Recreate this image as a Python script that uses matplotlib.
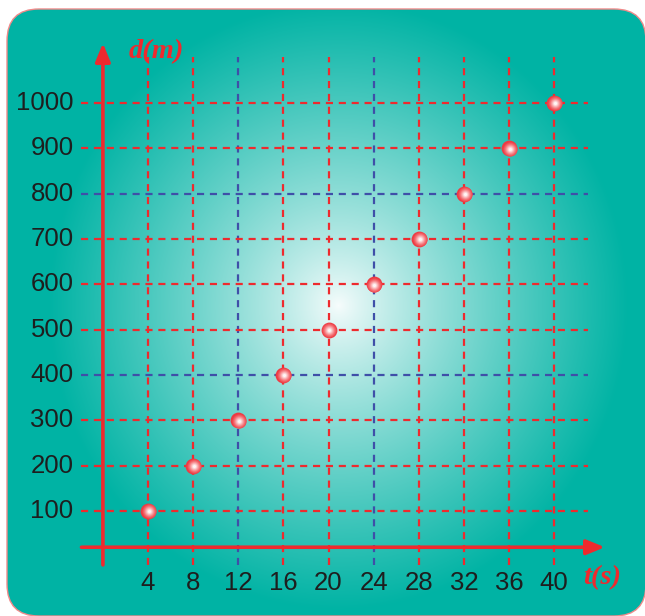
import numpy as np
import matplotlib
matplotlib.use("Agg")
import matplotlib.pyplot as plt
from matplotlib.patches import FancyBboxPatch
from matplotlib.colors import to_rgb
from matplotlib.transforms import offset_copy

# Distance travelled over time
times = [4, 8, 12, 16, 20, 24, 28, 32, 36, 40]
distances = [100, 200, 300, 400, 500, 600, 700, 800, 900, 1000]
x_ticks = [4, 8, 12, 16, 20, 24, 28, 32, 36, 40]
y_ticks = [100, 200, 300, 400, 500, 600, 700, 800, 900, 1000]
x_highlight = [12, 24]
y_highlight = [400, 800]

W, H = 645, 616
DPI = 100
RED = "#EE2A2E"
BLUE = "#3F4FA8"
TEAL = np.array(to_rgb("#00B3A4"))

fig = plt.figure(figsize=(W / DPI, H / DPI), dpi=DPI)

# Background panel in pixel coordinates
bg = fig.add_axes([0, 0, 1, 1])
bg.set_xlim(0, W)
bg.set_ylim(H, 0)
bg.axis("off")

yy, xx = np.mgrid[0:H, 0:W]
r = np.hypot((xx - 338) / 1.0, (yy - 305) / 1.05) / 290.0
t = np.clip(r, 0, 1) ** 0.85
white = np.array([0.97, 0.99, 0.99])
img = white[None, None, :] * (1 - t[..., None]) + TEAL[None, None, :] * t[..., None]
panel = FancyBboxPatch((7, 9), 639, 607, boxstyle="round,pad=0,rounding_size=32",
                       facecolor="none", edgecolor="#F08A8A", linewidth=1.0, zorder=3)
bg.add_patch(panel)
im = bg.imshow(img, extent=(0, W, H, 0), zorder=1, interpolation="bilinear")
im.set_clip_path(panel)

# Data axes: x=0 at px 102.9, 11.28 px per unit; y=0 at px 556.3, 0.4533 px per unit
x0, sx = 102.9, 11.28
y0, sy = 556.3, 0.4533
xlim = (-8, 48)
ylim = (-60, 1200)
left = (x0 + sx * xlim[0]) / W
right = (x0 + sx * xlim[1]) / W
bottom = 1 - (y0 - sy * ylim[0]) / H
top = 1 - (y0 - sy * ylim[1]) / H
ax = fig.add_axes([left, bottom, right - left, top - bottom])
ax.set_xlim(*xlim)
ax.set_ylim(*ylim)
ax.axis("off")
ax.patch.set_alpha(0)

dash = (0, (3.2, 2.6))
for xv in x_ticks:
    c = BLUE if xv in x_highlight else RED
    ax.plot([xv, xv], [-19, 1101], color=c, lw=1.6, linestyle=dash, zorder=2)
for yv in y_ticks:
    c = BLUE if yv in y_highlight else RED
    ax.plot([-1.9, 43.0], [yv, yv], color=c, lw=1.6, linestyle=dash, zorder=2)

# Axes arrows
ax.annotate("", xy=(44.5, 20), xytext=(-1.9, 20),
            arrowprops=dict(arrowstyle="-|>,head_length=1.1,head_width=0.45",
                            color=RED, lw=2.6, shrinkA=0, shrinkB=0), zorder=4)
ax.annotate("", xy=(0, 1132), xytext=(0, -19),
            arrowprops=dict(arrowstyle="-|>,head_length=1.1,head_width=0.45",
                            color=RED, lw=2.6, shrinkA=0, shrinkB=0), zorder=4)

# Tick labels
for xv in x_ticks:
    ax.text(xv, -59, str(xv), ha="center", va="center", fontsize=18.5,
            family="Liberation Sans", color="#1E1E1E")
for yv in y_ticks:
    ax.text(-2.6, yv, str(yv), ha="right", va="center", fontsize=18.5,
            family="Liberation Sans", color="#1E1E1E")

ax.text(2.3, 1114, "d(m)", ha="left", va="center", fontsize=20.5, color=RED,
        family="Liberation Serif", fontweight="bold", fontstyle="italic")
ax.text(42.6, -46, "t(s)", ha="left", va="center", fontsize=20.5, color=RED,
        family="Liberation Serif", fontweight="bold", fontstyle="italic")

# Shaded sphere markers: red body with a soft highlight slightly right of centre
ax.scatter(times, distances, s=130, color="#EE3A42", linewidths=0, zorder=5)
hl = offset_copy(ax.transData, fig=fig, x=0.6, y=-0.3, units="points")
layers = [(105, "#F04E55"), (80, "#F36368"), (58, "#F57C80"), (40, "#F8999C"),
          (25, "#FAB8BA"), (13, "#FDD8D9"), (5, "#FFF4F4")]
for s, c in layers:
    ax.scatter(times, distances, s=s, color=c, linewidths=0, zorder=6, transform=hl)

fig.savefig("out.png", dpi=DPI)
